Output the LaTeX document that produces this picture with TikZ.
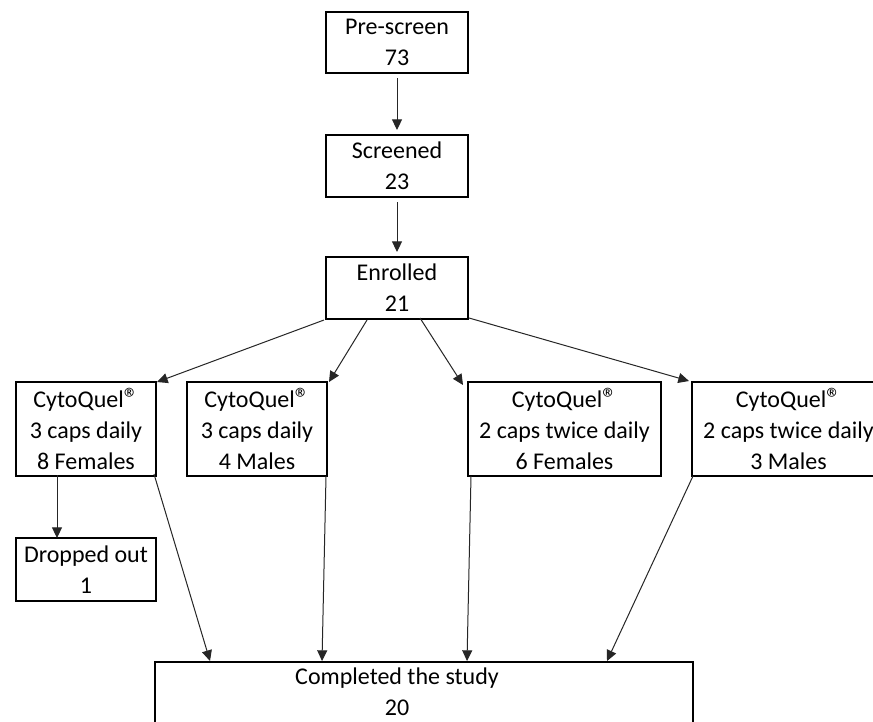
\documentclass[tikz,border=0pt]{standalone}
\usepackage{fontspec}
\setmainfont{Carlito}
\usetikzlibrary{arrows.meta,calc}
\def\px{0.75pt}
\newcommand{\regmark}{\raisebox{-0.1ex}{\fontsize{22}{22}\selectfont ®}}
\begin{document}
\begin{tikzpicture}[x=0.75pt,y=-0.75pt,
  box/.style={draw=black,line width=1.5pt,align=center,inner sep=0pt,
    font=\fontsize{18}{23.25}\selectfont},
  txt/.style={align=center,inner sep=0pt,font=\fontsize{18}{23.25}\selectfont},
  arr/.style={draw=black!85,line width=0.75pt,-{Triangle[length=8pt,width=7.5pt]}}]
\useasboundingbox (0,0) rectangle (873,721);
\clip (0,0) rectangle (873,721);
\fill[white] (0,0) rectangle (873,721);
% top chain
\node[box,minimum width=142*\px,minimum height=61*\px] (pre) at (397,42.5) {Pre-screen\\73};
\node[box,minimum width=142*\px,minimum height=62*\px] (scr) at (397,166) {Screened\\23};
\node[box,minimum width=142*\px,minimum height=62*\px] (enr) at (397,288) {Enrolled\\21};
% arms
\node[box,minimum width=140*\px,minimum height=94*\px] (b1) at (86,429) {CytoQuel\regmark\\3 caps daily\\8 Females};
\node[box,minimum width=140*\px,minimum height=94*\px] (b2) at (257,429) {CytoQuel\regmark\\3 caps daily\\4 Males};
\node[box,minimum width=193*\px,minimum height=94*\px] (b3) at (564.5,429) {CytoQuel\regmark\\2 caps twice daily\\6 Females};
\node[box,minimum width=193*\px,minimum height=94*\px] (b4) at (788.5,429) {CytoQuel\regmark\\2 caps twice daily\\3 Males};
\node[box,minimum width=140*\px,minimum height=63*\px] (drop) at (86,569.5) {Dropped out\\1};
% completed
\node[box,minimum width=538*\px,minimum height=110*\px] (comp) at (424,717) {};
\node[txt] (comptext) at (397,692) {Completed the study\\20};
% arrows
\draw[arr] ([yshift=-4*\px]pre.south) -- ([yshift=4*\px]scr.north);
\draw[arr] ([yshift=-4*\px]scr.south) -- ([yshift=4*\px]enr.north);
\draw[arr] ([xshift=-1*\px]enr.south west) -- ([yshift=-1*\px]b1.north east);
\draw[arr] ([xshift=-30*\px]enr.south) -- ([xshift=1*\px,yshift=-1*\px]b2.north east);
\draw[arr] ([xshift=23*\px,yshift=2*\px]enr.south) -- ([xshift=-4*\px,yshift=-4*\px]b3.north west);
\draw[arr] ([yshift=2*\px]enr.south east) -- ([xshift=-2*\px]b4.north west);
\draw[arr] ([xshift=-29*\px,yshift=2*\px]b1.south) -- ([xshift=-29*\px,yshift=-1*\px]drop.north);
\draw[arr] ([xshift=-3*\px,yshift=3*\px]b1.south east) -- ([xshift=-214*\px]comp.north);
\draw[arr] ([xshift=-2*\px,yshift=1*\px]b2.south east) -- ([xshift=-102*\px]comp.north);
\draw[arr] ([xshift=4*\px,yshift=1*\px]b3.south west) -- ([xshift=43*\px]comp.north);
\draw[arr] ([xshift=2*\px,yshift=1*\px]b4.south west) -- ([xshift=183*\px]comp.north);
\end{tikzpicture}
\end{document}
